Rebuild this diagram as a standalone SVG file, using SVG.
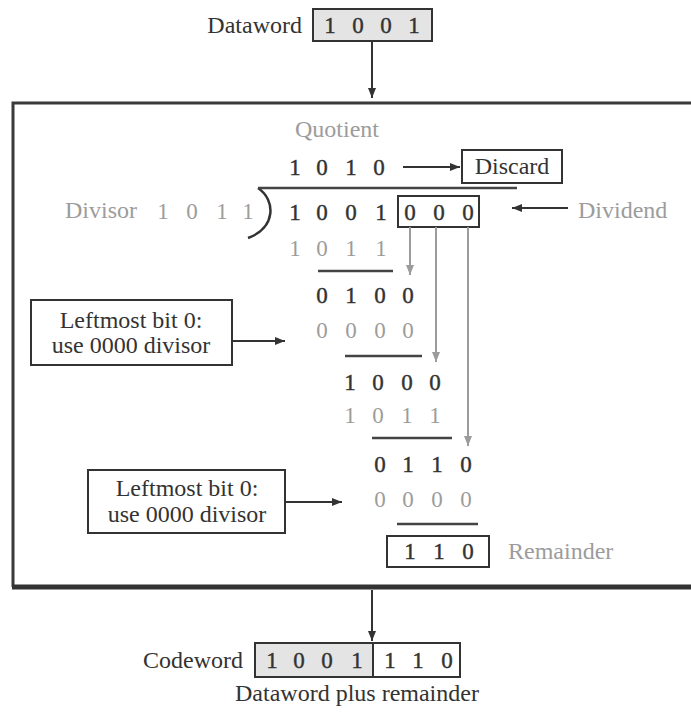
<svg xmlns="http://www.w3.org/2000/svg" width="691" height="712" viewBox="0 0 691 712">
<style>
.t{font-family:"Liberation Serif","Times New Roman",serif;font-size:24px}
.d{font-family:"Liberation Serif","Times New Roman",serif;font-size:23px;text-anchor:middle}
.k{fill:#333}
.d.k{stroke:#333;stroke-width:0.4}
.g{fill:#9c9c9c}
.bx{fill:none;stroke:#333;stroke-width:2}
.rule{stroke:#444;stroke-width:2.5}
.ca{stroke:#333;stroke-width:2;fill:none}
.ga{stroke:#9c9c9c;stroke-width:2;fill:none}
</style>
<defs>
<marker id="ad" viewBox="0 0 10 8" refX="10" refY="4" markerWidth="11" markerHeight="8" orient="auto" markerUnits="userSpaceOnUse"><path d="M0,0 L10,4 L0,8 z" fill="#333"/></marker>
<marker id="ag" viewBox="0 0 10 8" refX="10" refY="4" markerWidth="10" markerHeight="8" orient="auto" markerUnits="userSpaceOnUse"><path d="M0,0 L10,4 L0,8 z" fill="#9c9c9c"/></marker>
</defs>
<rect width="691" height="712" fill="#fff"/>

<g id="frame">
<path d="M700 103 H13 V587" fill="none" stroke="#3a3a3a" stroke-width="3"/>
<line x1="12" y1="587" x2="700" y2="587" stroke="#333" stroke-width="5"/>
</g>

<g id="dataword">
<text class="t k" x="302" y="33" text-anchor="end">Dataword</text>
<rect x="313" y="9" width="119" height="32" fill="#e4e4e4" stroke="#333" stroke-width="2"/>
<text class="d k" y="33"><tspan x="330">1</tspan><tspan x="358">0</tspan><tspan x="386">0</tspan><tspan x="414">1</tspan></text>
</g>

<g id="quotient">
<text class="t g" x="295" y="137">Quotient</text>
<text class="d k" y="175"><tspan x="295">1</tspan><tspan x="322">0</tspan><tspan x="351">1</tspan><tspan x="379">0</tspan></text>
</g>

<g id="discard">
<rect class="bx" x="462" y="150" width="100" height="33"/>
<text class="t k" x="512" y="174" text-anchor="middle">Discard</text>
</g>

<g id="divisor">
<text class="t g" x="65" y="218">Divisor</text>
<text class="d g" y="219"><tspan x="163">1</tspan><tspan x="192">0</tspan><tspan x="222">1</tspan><tspan x="248">1</tspan></text>
<path d="M258 188 C276 200 276 228 248 238" fill="none" stroke="#333" stroke-width="2.5"/>
<line class="rule" x1="258" y1="188" x2="517" y2="188"/>
</g>

<g id="dividend">
<text class="d k" y="220"><tspan x="295">1</tspan><tspan x="322">0</tspan><tspan x="351">0</tspan><tspan x="381">1</tspan><tspan x="410">0</tspan><tspan x="439">0</tspan><tspan x="468">0</tspan></text>
<rect class="bx" x="398" y="196" width="81" height="31"/>
<text class="t g" x="578" y="218">Dividend</text>
</g>

<g id="step1">
<text class="d g" y="256"><tspan x="295">1</tspan><tspan x="322">0</tspan><tspan x="351">1</tspan><tspan x="381">1</tspan></text>
<line class="rule" x1="318" y1="271" x2="393" y2="271"/>
<text class="d k" y="303"><tspan x="322">0</tspan><tspan x="351">1</tspan><tspan x="380">0</tspan><tspan x="408">0</tspan></text>
</g>

<g id="step2">
<text class="d g" y="338"><tspan x="322">0</tspan><tspan x="351">0</tspan><tspan x="380">0</tspan><tspan x="408">0</tspan></text>
<line class="rule" x1="345" y1="356" x2="422" y2="356"/>
<text class="d k" y="390"><tspan x="350">1</tspan><tspan x="378">0</tspan><tspan x="407">0</tspan><tspan x="435">0</tspan></text>
</g>

<g id="step3">
<text class="d g" y="423"><tspan x="350">1</tspan><tspan x="378">0</tspan><tspan x="407">1</tspan><tspan x="435">1</tspan></text>
<line class="rule" x1="372" y1="438" x2="452" y2="438"/>
<text class="d k" y="472"><tspan x="380">0</tspan><tspan x="408">1</tspan><tspan x="437">1</tspan><tspan x="466">0</tspan></text>
</g>

<g id="step4">
<text class="d g" y="507"><tspan x="380">0</tspan><tspan x="408">0</tspan><tspan x="437">0</tspan><tspan x="466">0</tspan></text>
<line class="rule" x1="397" y1="524" x2="478" y2="524"/>
</g>

<g id="remainder">
<rect class="bx" x="387" y="536" width="102" height="31"/>
<text class="d k" y="559"><tspan x="410">1</tspan><tspan x="439">1</tspan><tspan x="468">0</tspan></text>
<text class="t g" x="508" y="559">Remainder</text>
</g>

<g id="note1">
<rect class="bx" x="31" y="300" width="201" height="65"/>
<text class="t k" x="131" y="328" text-anchor="middle">Leftmost bit 0:</text>
<text class="t k" x="131" y="353" text-anchor="middle">use 0000 divisor</text>
</g>

<g id="note2">
<rect class="bx" x="88" y="470" width="197" height="63"/>
<text class="t k" x="187" y="496" text-anchor="middle">Leftmost bit 0:</text>
<text class="t k" x="187" y="522" text-anchor="middle">use 0000 divisor</text>
</g>

<g id="codeword">
<text class="t k" x="243" y="668" text-anchor="end">Codeword</text>
<rect x="255" y="643" width="118" height="34" fill="#e4e4e4"/>
<rect class="bx" x="255" y="643" width="205" height="34"/>
<line x1="373" y1="643" x2="373" y2="677" stroke="#333" stroke-width="2"/>
<text class="d k" y="668"><tspan x="272">1</tspan><tspan x="299">0</tspan><tspan x="327">0</tspan><tspan x="357">1</tspan><tspan x="390">1</tspan><tspan x="418">1</tspan><tspan x="447">0</tspan></text>
<text class="t k" x="235" y="701">Dataword plus remainder</text>
</g>

<g id="connectors">
<line class="ca" x1="372" y1="41" x2="372" y2="98" marker-end="url(#ad)"/>
<line class="ca" x1="403" y1="167" x2="460" y2="167" marker-end="url(#ad)"/>
<line class="ca" x1="568" y1="208" x2="512" y2="208" marker-end="url(#ad)"/>
<line class="ga" x1="410" y1="227" x2="410" y2="275" marker-end="url(#ag)"/>
<line class="ga" x1="436" y1="227" x2="436" y2="362" marker-end="url(#ag)"/>
<line class="ga" x1="468" y1="227" x2="468" y2="446" marker-end="url(#ag)"/>
<line class="ca" x1="232" y1="341" x2="285" y2="341" marker-end="url(#ad)"/>
<line class="ca" x1="285" y1="502" x2="342" y2="502" marker-end="url(#ad)"/>
<line class="ca" x1="372" y1="590" x2="372" y2="641" marker-end="url(#ad)"/>
</g>
</svg>
